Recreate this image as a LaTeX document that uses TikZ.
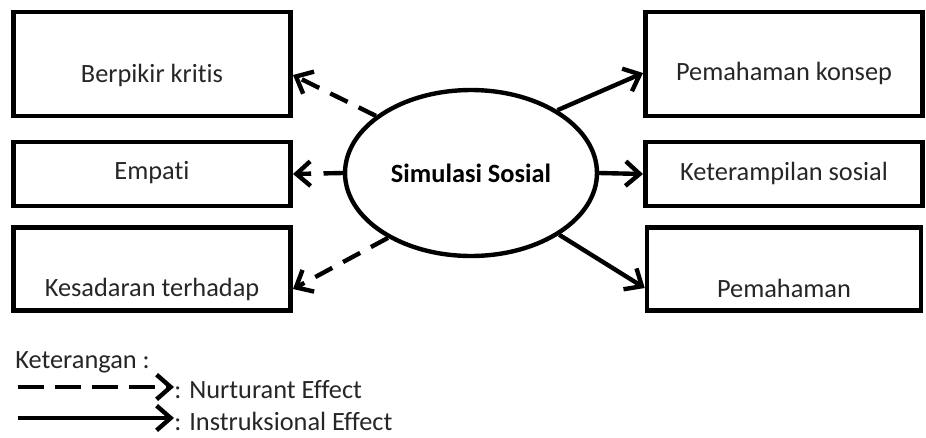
\documentclass[tikz,border=0pt]{standalone}
\usepackage{fontspec}
\setmainfont{Carlito}[Ligatures=CommonOff]
\usetikzlibrary{positioning, shapes.geometric, arrows.meta}

\begin{document}
\begin{tikzpicture}[
  x=0.02cm, y=-0.02cm,
  font=\fontsize{15}{18}\selectfont,
  box/.style={draw, line width=2.6pt, minimum width=5.55cm, inner sep=0pt},
  lbl/.style={inner sep=0pt, text=black!85},
  core/.style={draw, ellipse, line width=2.5pt, minimum width=5.04cm,
               minimum height=3.32cm, inner sep=0pt, font=\fontsize{15}{18}\selectfont\bfseries},
  nurt/.style={-{Straight Barb[length=8pt, width=14pt]}, line width=2.5pt,
               dash pattern=on 11pt off 7pt},
  instr/.style={-{Straight Barb[length=8pt, width=14pt]}, line width=2.5pt},
]
\useasboundingbox (0,0) rectangle (926,437);

% left column
\node[box, minimum height=2.08cm] (bk) at (152,64) {};
\node[lbl] (bkt) at (152,75) {Berpikir kritis};
\node[box, minimum height=1.28cm] (em) at (152,174) {};
\node[lbl] (emt) at (152,173) {Empati};
\node[box, minimum height=1.66cm] (ks) at (152,269) {};
\node[lbl] (kst) at (152,289) {Kesadaran terhadap};

% right column
\node[box, minimum height=2.08cm] (pk) at (784,64) {};
\node[lbl] (pkt) at (784,73) {Pemahaman konsep};
\node[box, minimum height=1.28cm] (kp) at (784,174) {};
\node[lbl] (kpt) at (784,173) {Keterampilan sosial};
\node[box, minimum height=1.66cm, minimum width=5.48cm] (pm) at (784,269) {};
\node[lbl] (pmt) at (784,288) {Pemahaman};

% centre
\node[core] (sim) at (471,173) {Simulasi Sosial};

\draw[nurt] (sim.149) -- (bkt -| bk.east);
\draw[nurt] (sim.180) -- (em.east);
\draw[nurt] (sim.218) -- (kst -| ks.east);
\draw[instr] (sim.36) -- (pkt -| pk.west);
\draw[instr] (sim.0) -- (kp.west);
\draw[instr] (sim.325) -- (pmt -| pm.west);

% legend
\node[lbl, anchor=west] (ket) at (15,362) {Keterangan :};
\node[lbl, anchor=west] (nt) at (174,390) {: Nurturant Effect};
\node[lbl, anchor=west] (it) at (174,421) {: Instruksional Effect};
\coordinate (na) at (18,387);
\coordinate (ia) at (18,418);
\draw[nurt, dash pattern=on 15pt off 6pt] (na) -- (na -| nt.west);
\draw[instr] (ia) -- (ia -| it.west);

\end{tikzpicture}
\end{document}
